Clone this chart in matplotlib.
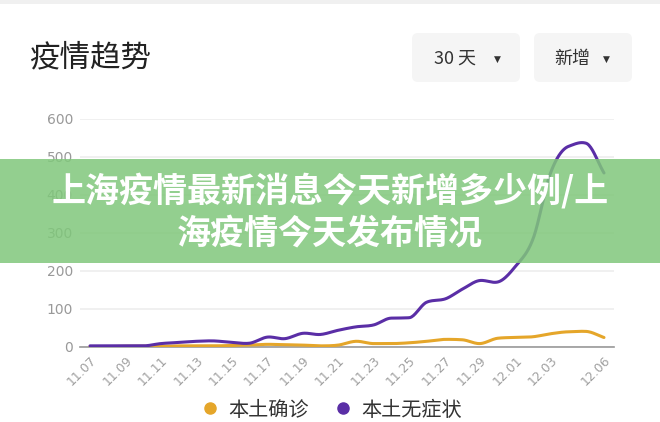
import numpy as np
import matplotlib.pyplot as plt
from matplotlib.patches import Rectangle, FancyBboxPatch
from matplotlib.lines import Line2D
from matplotlib.transforms import IdentityTransform

plt.rcParams['font.family'] = ['Noto Sans CJK SC', 'DejaVu Sans']

# 数据
dates = ['11.07', '11.08', '11.09', '11.10', '11.11', '11.12', '11.13', '11.14',
         '11.15', '11.16', '11.17', '11.18', '11.19', '11.20', '11.21', '11.22',
         '11.23', '11.24', '11.25', '11.26', '11.27', '11.28', '11.29', '11.30',
         '12.01', '12.02', '12.03', '12.04', '12.05', '12.06']
confirmed = [1, 1, 2, 2, 2, 3, 3, 3, 4, 5, 7, 6, 5, 3, 5, 15, 9, 9, 11, 15,
             20, 19, 9, 23, 25, 27, 35, 40, 41, 25]
asymptomatic = [3, 3, 3, 3, 9, 12, 15, 16, 12, 10, 26, 22, 36, 33, 44, 53,
                58, 76, 77, 118, 126, 152, 175, 171, 212, 285, 460, 528, 536, 458]
shown_ticks = list(range(0, 28, 2)) + [len(dates) - 1]
y_ticks = [0, 100, 200, 300, 400, 500, 600]

W, H = 660, 422
ORANGE = '#E5A62A'
PURPLE = '#5A2EA6'


# 平滑曲线（单调三次插值）
def smooth(y, n=20):
    y = np.asarray(y, dtype=float)
    d = np.diff(y)
    m = np.zeros_like(y)
    m[1:-1] = (d[:-1] + d[1:]) / 2
    m[0], m[-1] = d[0], d[-1]
    for k in range(len(d)):
        if d[k] == 0:
            m[k] = m[k + 1] = 0
        else:
            a, b = m[k] / d[k], m[k + 1] / d[k]
            s = a * a + b * b
            if s > 9:
                t = 3 / np.sqrt(s)
                m[k], m[k + 1] = t * a * d[k], t * b * d[k]
    xs = np.linspace(0, len(y) - 1, (len(y) - 1) * n + 1)
    k = np.minimum(xs.astype(int), len(y) - 2)
    t = xs - k
    h00 = 2 * t**3 - 3 * t**2 + 1
    h10 = t**3 - 2 * t**2 + t
    h01 = -2 * t**3 + 3 * t**2
    h11 = t**3 - t**2
    return xs, h00 * y[k] + h10 * m[k] + h01 * y[k + 1] + h11 * m[k + 1]


fig = plt.figure(figsize=(W / 100, H / 100), dpi=100)
fig.add_artist(Rectangle((0, 1 - 4 / H), 1, 4 / H, transform=fig.transFigure,
                         color='#f0f0f0', lw=0))

# 标题和按钮
fig.text(29 / W, 1 - 58 / H, '疫情趋势', fontsize=22, color='#222222',
         va='center', ha='left', weight='medium')
for (x0, x1, label, lx, tri_x) in [(412, 520, '30 天', 455, 497),
                                   (534, 632, '新增', 572, 606)]:
    r = 6
    fig.add_artist(FancyBboxPatch((x0 + r, H - 82 + r), x1 - x0 - 2 * r, 49 - 2 * r,
                                  boxstyle=f'round,pad={r}', transform=IdentityTransform(),
                                  fc='#f5f5f5', ec='none'))
    fig.text(lx / W, 1 - 59 / H, label, fontsize=13, color='#333333',
             ha='center', va='center')
    fig.text(tri_x / W, 1 - 59 / H, '▼', fontsize=6.5, color='#333333',
             ha='center', va='center', family='DejaVu Sans')

# 图表
ax = fig.add_axes([80 / W, 1 - 347 / H, 534 / W, 228 / H])
x = np.arange(len(dates))
xs, ys = smooth(confirmed)
ax.plot(xs, ys, color=ORANGE, lw=2.2, solid_capstyle='round', label='本土确诊', zorder=3)
xs, ys = smooth(asymptomatic)
ax.plot(xs, ys, color=PURPLE, lw=2.2, solid_capstyle='round', label='本土无症状', zorder=4)

ax.set_xlim(-10 / 17.72, len(dates) - 1 + 10 / 17.72)
ax.set_ylim(0, 600)
ax.set_yticks(y_ticks)
ax.set_xticks([x[i] for i in shown_ticks])
ax.set_xticklabels([dates[i] for i in shown_ticks], rotation=45, ha='right',
                   rotation_mode='anchor', fontsize=9, color='#a0a0a0',
                   family='DejaVu Sans')
ax.tick_params(axis='x', length=0, pad=5)
ax.tick_params(axis='y', length=0, pad=5, labelsize=10, labelcolor='#999999')
for lab in ax.get_yticklabels():
    lab.set_family('DejaVu Sans')
ax.yaxis.grid(True, color='#eeeeee', lw=1.2)
ax.set_axisbelow(True)
for s in ['top', 'right', 'left']:
    ax.spines[s].set_visible(False)
ax.spines['bottom'].set_color('#999999')
ax.spines['bottom'].set_linewidth(1.2)

handles = [Line2D([], [], ls='none', marker='o', ms=8, color=ORANGE),
           Line2D([], [], ls='none', marker='o', ms=8, color=PURPLE)]
fig.legend(handles, ['本土确诊', '本土无症状'], loc='center',
           bbox_to_anchor=(332 / W, 1 - 410 / H), ncol=2, frameon=False,
           fontsize=14.5, handlelength=0.8, handletextpad=0.5, columnspacing=1.3,
           labelcolor='#333333', borderpad=0.1)

# 横幅
fig.add_artist(Rectangle((0, 1 - 263 / H), 1, 104 / H, transform=fig.transFigure,
                         fc='#80c77b', alpha=0.85, lw=0, zorder=5))
fig.text(0.5, 1 - 191 / H, '上海疫情最新消息今天新增多少例/上', fontsize=24.5,
         weight='bold', color='white', ha='center', va='center', zorder=6)
fig.text(0.5, 1 - 233 / H, '海疫情今天发布情况', fontsize=24.5,
         weight='bold', color='white', ha='center', va='center', zorder=6)

fig.savefig('out.png', dpi=100)
